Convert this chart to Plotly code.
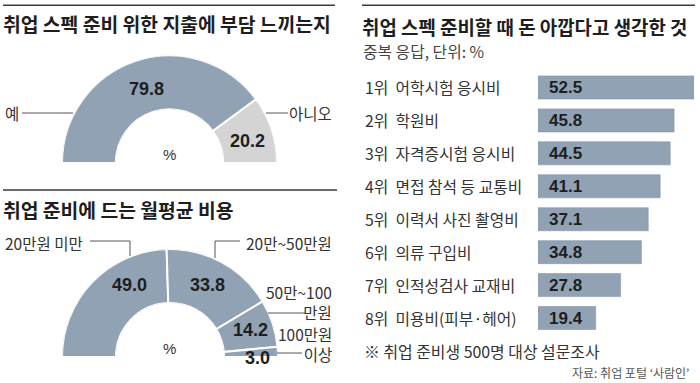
import numpy as np
import plotly.graph_objects as go

# ---------------- data ----------------
burden_labels = ["예", "아니오"]
burden_values = [79.8, 20.2]

cost_labels = ["20만원 미만", "20만~50만원", "50만~100<br>만원", "100만원<br>이상"]
cost_values = [49.0, 33.8, 14.2, 3.0]

waste_items = ["어학시험 응시비", "학원비", "자격증시험 응시비", "면접 참석 등 교통비",
               "이력서 사진 촬영비", "의류 구입비", "인적성검사 교재비", "미용비(피부·헤어)"]
waste_values = [52.5, 45.8, 44.5, 41.1, 37.1, 34.8, 27.8, 19.4]

title_burden = "취업 스펙 준비 위한 지출에 부담 느끼는지"
title_cost = "취업 준비에 드는 월평균 비용"
title_waste = "취업 스펙 준비할 때 돈 아깝다고 생각한 것"
subtitle_waste = "중복 응답, 단위: %"
footnote = "※ 취업 준비생 500명 대상 설문조사"
source = "자료: 취업 포털 ‘사람인’"

# ---------------- style ----------------
W, H = 700, 383
BLUE = "#91a2b4"
GRAY = "#d4d4d4"
KR = "Noto Sans CJK KR, Noto Sans, sans-serif"
NUM = "Liberation Sans, Arial, sans-serif"
DARK = "#1e1e1e"
TXT = "#333333"


def px(x):
    return x / W


def py(y):
    return 1 - y / H


def semi_donut(values, colors, subplot):
    v = np.array(values, dtype=float)
    start = np.cumsum(v) - v
    return go.Barpolar(
        r=[1] * len(v), theta=(start + v / 2) * 1.8, width=v * 1.8,
        base=0, marker=dict(color=colors, line=dict(color="white", width=2)),
        subplot=subplot, hoverinfo="skip", showlegend=False,
    )


fig = go.Figure()
fig.add_trace(semi_donut(burden_values, [BLUE, GRAY], "polar"))
fig.add_trace(semi_donut(cost_values, [BLUE] * 4, "polar2"))

rank_labels = [f"{i + 1}위  {t}" for i, t in enumerate(waste_items)]
fig.add_trace(go.Bar(
    x=waste_values, y=rank_labels, orientation="h", width=0.7,
    marker=dict(color=BLUE, line=dict(color="#8596a8", width=0.6)),
    hoverinfo="skip", showlegend=False,
))

polar_common = dict(
    sector=[0, 180], hole=0.5, bgcolor="rgba(0,0,0,0)",
    radialaxis=dict(visible=False, range=[0, 1]),
    angularaxis=dict(visible=False, rotation=180, direction="clockwise"),
)

fig.update_layout(
    width=W, height=H, margin=dict(l=0, r=0, t=0, b=0),
    paper_bgcolor="white", plot_bgcolor="white", showlegend=False,
    polar=dict(domain=dict(x=[px(62), px(277)], y=[py(163), py(55.5)]), **polar_common),
    polar2=dict(domain=dict(x=[px(62), px(278)], y=[py(357), py(249)]), **polar_common),
    xaxis=dict(domain=[px(538), px(694)], range=[0, max(waste_values)], visible=False, fixedrange=True),
    yaxis=dict(domain=[py(334.5), py(71)], autorange="reversed", visible=False, fixedrange=True),
    bargap=0.3,
)

ann = []


def text(x, y, s, size, color=TXT, family=KR, anchor="left", bold=False):
    ann.append(dict(
        x=px(x), y=py(y), xref="paper", yref="paper", text=f"<b>{s}</b>" if bold else s,
        showarrow=False, xanchor=anchor, yanchor="middle",
        font=dict(size=size, color=color, family=family),
    ))


# titles
text(1, 24, title_burden, 19.3, DARK, bold=True)
text(1, 210, title_cost, 19.3, DARK, bold=True)
text(360, 26, title_waste, 18.9, DARK, bold=True)
text(361, 51.5, subtitle_waste, 15.8, "#444444")

# donut 1 labels
text(3, 113, burden_labels[0], 15.5)
text(334, 113, burden_labels[1], 15.5, anchor="right")
text(146, 89, f"{burden_values[0]:.1f}", 18, DARK, NUM, "center", True)
text(248, 141, f"{burden_values[1]:.1f}", 18, DARK, NUM, "center", True)
text(169, 154, "%", 15, TXT, NUM, "center")

# donut 2 labels
text(3, 243, cost_labels[0], 15.5)
text(334, 243, cost_labels[1], 15.5, anchor="right")
ann.append(dict(x=px(334), y=py(302), xref="paper", yref="paper", text=cost_labels[2],
                showarrow=False, xanchor="right", yanchor="middle", align="right",
                font=dict(size=15.5, color=TXT, family=KR)))
ann.append(dict(x=px(334), y=py(344), xref="paper", yref="paper", text=cost_labels[3],
                showarrow=False, xanchor="right", yanchor="middle", align="right",
                font=dict(size=15.5, color=TXT, family=KR)))
text(129, 285, f"{cost_values[0]:.1f}", 18, DARK, NUM, "center", True)
text(207, 285, f"{cost_values[1]:.1f}", 18, DARK, NUM, "center", True)
text(250, 330, f"{cost_values[2]:.1f}", 18, DARK, NUM, "center", True)
text(257, 358, f"{cost_values[3]:.1f}", 18, DARK, NUM, "center", True)
text(169, 348, "%", 15, TXT, NUM, "center")

# bar labels and values
for lab, v in zip(rank_labels, waste_values):
    ann.append(dict(x=px(363), y=lab, xref="paper", yref="y", text=lab, showarrow=False,
                    xanchor="left", yanchor="middle", font=dict(size=15.8, color=TXT, family=KR)))
    ann.append(dict(x=0, y=lab, xref="x", yref="y", text=f"<b>{v:.1f}</b>", showarrow=False,
                    xanchor="left", yanchor="middle", xshift=9,
                    font=dict(size=17, color=DARK, family=NUM)))

text(362, 351, footnote, 15.9)
text(691, 372, source, 12, "#555555", anchor="right")

fig.update_layout(annotations=ann)

# rules (as thin filled bands) and leader lines
RULE = "#3a3a3a"
LEAD = dict(color="#555555", width=1)
shapes = [
    dict(type="rect", xref="paper", yref="paper", layer="above",
         x0=px(3), x1=px(335), y0=py(6), y1=py(4.5), fillcolor=RULE, line=dict(width=0)),
    dict(type="rect", xref="paper", yref="paper", layer="above",
         x0=px(362), x1=px(695), y0=py(6), y1=py(4.5), fillcolor=RULE, line=dict(width=0)),
    dict(type="rect", xref="paper", yref="paper", layer="above",
         x0=px(3), x1=px(337), y0=py(190.75), y1=py(189.25), fillcolor=RULE, line=dict(width=0)),
]
segs = [
    [(22, 113), (73, 113)],
    [(266, 113), (288, 113)],
    [(90, 241), (130, 241), (130, 256)],
    [(240, 241), (215, 241), (215, 258)],
    [(268, 313), (305, 313)],
    [(277, 353), (302, 353)],
]
for seg in segs:
    for (xa, ya), (xb, yb) in zip(seg[:-1], seg[1:]):
        shapes.append(dict(type="line", xref="paper", yref="paper",
                           x0=px(xa), x1=px(xb), y0=py(ya), y1=py(yb), line=LEAD))
fig.update_layout(shapes=shapes)

fig.write_html("out.html", config={"displayModeBar": False},
               post_script="document.body.style.margin='0';document.body.style.overflow='hidden';")
